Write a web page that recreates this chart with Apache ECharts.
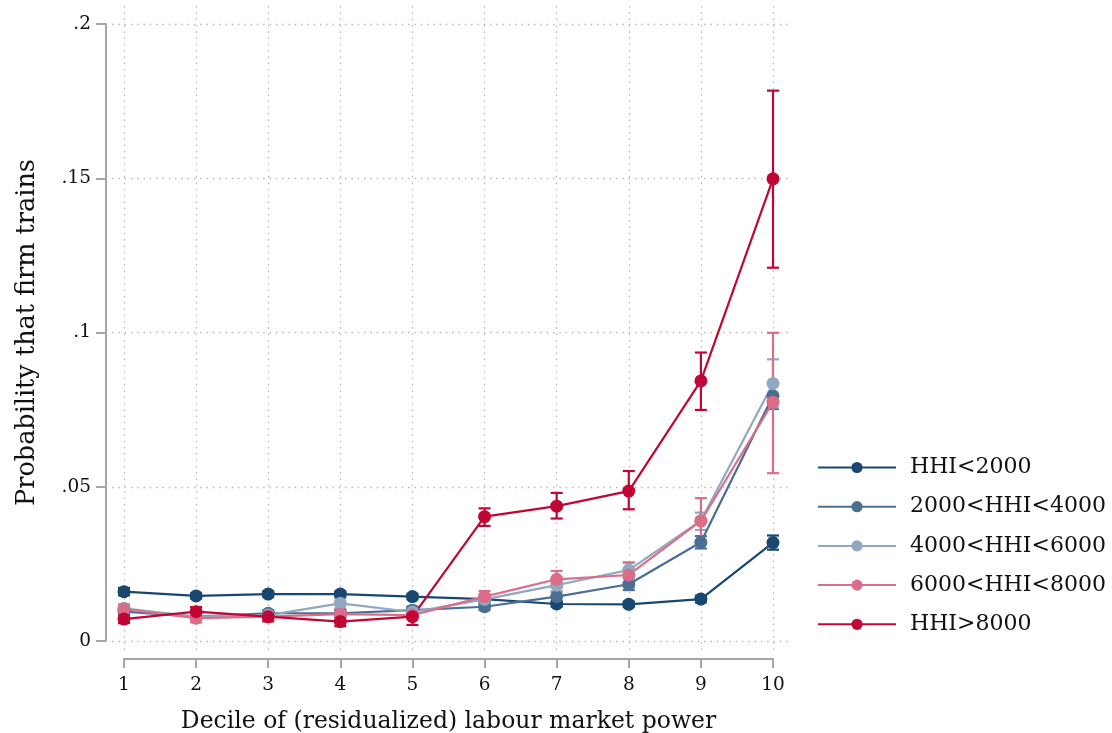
<!DOCTYPE html>
<html>
<head>
<meta charset="utf-8">
<script src="https://cdn.jsdelivr.net/npm/echarts@6/dist/echarts.min.js"></script>
<style>html,body{margin:0;padding:0;background:#fff;}#c{width:1112px;height:733px;}</style>
</head>
<body>
<div id="c"></div>
<script>
// ---- data ----
const deciles = [1, 2, 3, 4, 5, 6, 7, 8, 9, 10];
const seriesNames = ['HHI<2000', '2000<HHI<4000', '4000<HHI<6000', '6000<HHI<8000', 'HHI>8000'];
const hhi1 = [0.0160, 0.0146, 0.0152, 0.0152, 0.0144, 0.0136, 0.0120, 0.0119, 0.0136, 0.0319];
const hhi2 = [0.0095, 0.0079, 0.0090, 0.0090, 0.0100, 0.0111, 0.0144, 0.0184, 0.0320, 0.0795];
const hhi3 = [0.0106, 0.0079, 0.0084, 0.0122, 0.0094, 0.0135, 0.0181, 0.0230, 0.0390, 0.0835];
const hhi4 = [0.0103, 0.0074, 0.0079, 0.0087, 0.0084, 0.0144, 0.0200, 0.0214, 0.0389, 0.0774];
const hhi5 = [0.0071, 0.0095, 0.0079, 0.0063, 0.0079, 0.0403, 0.0437, 0.0486, 0.0843, 0.1498];
const hhi1Lo = [0.0148, 0.0137, 0.0143, 0.0143, 0.0135, 0.0127, 0.0111, 0.0110, 0.0125, 0.0296];
const hhi1Hi = [0.0172, 0.0155, 0.0161, 0.0161, 0.0153, 0.0145, 0.0129, 0.0128, 0.0147, 0.0342];
const hhi2Lo = [0.0085, 0.0069, 0.0080, 0.0080, 0.0088, 0.0100, 0.0128, 0.0165, 0.0300, 0.0752];
const hhi2Hi = [0.0105, 0.0089, 0.0100, 0.0100, 0.0112, 0.0122, 0.0160, 0.0203, 0.0340, 0.0838];
const hhi3Lo = [0.0093, 0.0068, 0.0072, 0.0105, 0.0080, 0.0118, 0.0160, 0.0205, 0.0360, 0.0757];
const hhi3Hi = [0.0119, 0.0090, 0.0096, 0.0139, 0.0108, 0.0152, 0.0202, 0.0255, 0.0416, 0.0913];
const hhi4Lo = [0.0088, 0.0060, 0.0064, 0.0072, 0.0070, 0.0126, 0.0173, 0.0174, 0.0315, 0.0544];
const hhi4Hi = [0.0118, 0.0088, 0.0094, 0.0102, 0.0098, 0.0162, 0.0227, 0.0254, 0.0463, 0.0999];
const hhi5Lo = [0.0058, 0.0080, 0.0064, 0.0048, 0.0052, 0.0373, 0.0397, 0.0427, 0.0749, 0.1210];
const hhi5Hi = [0.0084, 0.0110, 0.0094, 0.0078, 0.0106, 0.0430, 0.0480, 0.0551, 0.0935, 0.1784];
const yTicks = [0, 0.05, 0.1, 0.15, 0.2];
const xTitle = 'Decile of (residualized) labour market power';
const yTitle = 'Probability that firm trains';

// ---- styling ----
const colors = ['#1a476f', '#4a6f93', '#90a8c0', '#dc6d88', '#c10534'];
const FONT = 'DejaVu Serif';
const values = [hhi1, hhi2, hhi3, hhi4, hhi5];
const lows = [hhi1Lo, hhi2Lo, hhi3Lo, hhi4Lo, hhi5Lo];
const highs = [hhi1Hi, hhi2Hi, hhi3Hi, hhi4Hi, hhi5Hi];

// outer plot region (dotted grid) extends beyond the axis ranges
const X_LO = 1 - 12 / 72.11, X_HI = 10 + 15 / 72.11;
const Y_LO = -12 / 3085, Y_HI = 0.2 + 18 / 3085;

const gridLine = { show: true, showMinLine: false, showMaxLine: false,
  lineStyle: { color: '#b8b8b8', width: 1.3, type: [1.5, 4.8] } };

const errSeries = seriesNames.map((n, k) => ({
  type: 'custom',
  name: n + ' CI',
  xAxisIndex: 0, yAxisIndex: 0,
  z: 1,
  silent: true,
  encode: { x: 0, y: [1, 2] },
  data: deciles.map((d, i) => [d, lows[k][i], highs[k][i]]),
  renderItem: function (params, api) {
    const x = api.value(0);
    const a = api.coord([x, api.value(1)]);
    const b = api.coord([x, api.value(2)]);
    const w = 6;
    const st = { stroke: colors[k], lineWidth: 2.2, fill: null };
    return { type: 'group', children: [
      { type: 'line', shape: { x1: a[0], y1: a[1], x2: b[0], y2: b[1] }, style: st },
      { type: 'line', shape: { x1: a[0] - w, y1: a[1], x2: a[0] + w, y2: a[1] }, style: st },
      { type: 'line', shape: { x1: b[0] - w, y1: b[1], x2: b[0] + w, y2: b[1] }, style: st }
    ] };
  }
}));

const lineSeries = seriesNames.map((n, k) => ({
  type: 'line',
  name: n,
  xAxisIndex: 0, yAxisIndex: 0,
  z: 3,
  data: deciles.map((d, i) => [d, values[k][i]]),
  symbol: 'circle',
  symbolSize: 13,
  lineStyle: { color: colors[k], width: 2.2 },
  itemStyle: { color: colors[k] },
  emphasis: { disabled: true },
  animation: false
}));

const chart = echarts.init(document.getElementById('c'), null, { renderer: 'canvas' });
chart.setOption({
  animation: false,
  backgroundColor: '#fff',
  grid: [
    { left: 112, right: 324, top: 6, bottom: 80, outerBoundsMode: 'none', containLabel: false },
    { left: 124, right: 339, top: 24, bottom: 92, outerBoundsMode: 'none', containLabel: false }
  ],
  xAxis: [
    { type: 'value', gridIndex: 0, min: X_LO, max: X_HI, splitNumber: 10, minInterval: 1, maxInterval: 1,
      axisLine: { show: false }, axisTick: { show: false }, axisLabel: { show: false }, splitLine: gridLine },
    { type: 'value', gridIndex: 1, min: 1, max: 10, interval: 1, offset: 18, position: 'bottom',
      axisLine: { show: true, onZero: false, lineStyle: { color: '#a6a6a6', width: 2 } },
      axisTick: { show: true, length: 9, inside: false, lineStyle: { color: '#a6a6a6', width: 2 } },
      axisLabel: { show: true, margin: 17, fontFamily: FONT, fontSize: 18.5, color: '#111' },
      splitLine: { show: false },
      name: xTitle, nameLocation: 'middle', nameGap: 51,
      nameTextStyle: { fontFamily: FONT, fontSize: 23.5, color: '#111' } }
  ],
  yAxis: [
    { type: 'value', gridIndex: 0, min: Y_LO, max: Y_HI, splitNumber: 4, minInterval: 0.05, maxInterval: 0.05,
      axisLine: { show: false }, axisTick: { show: false }, axisLabel: { show: false }, splitLine: gridLine },
    { type: 'value', gridIndex: 1, min: 0, max: 0.2, interval: 0.05, offset: 18, position: 'left',
      axisLine: { show: true, onZero: false, lineStyle: { color: '#a6a6a6', width: 2 } },
      axisTick: { show: true, length: 10, inside: false, lineStyle: { color: '#a6a6a6', width: 2 } },
      axisLabel: { show: true, margin: 15, fontFamily: FONT, fontSize: 18.5, color: '#111',
        formatter: function (v) {
          const t = yTicks.find(q => Math.abs(q - v) < 1e-9);
          if (t === undefined) return '';
          return t === 0 ? '0' : String(t).replace(/^0/, '');
        } },
      splitLine: { show: false },
      name: yTitle, nameLocation: 'middle', nameGap: 66, nameRotate: 90,
      nameTextStyle: { fontFamily: FONT, fontSize: 25.5, color: '#111' } }
  ],
  legend: {
    orient: 'vertical',
    left: 812, top: 449.5,
    data: seriesNames,
    itemWidth: 78, itemHeight: 14, itemGap: 13.2,
    selectedMode: false,
    textStyle: { fontFamily: FONT, fontSize: 22, color: '#111', lineHeight: 26, padding: [0, 0, 0, 9] }
  },
  series: errSeries.concat(lineSeries)
});
</script>
</body>
</html>
